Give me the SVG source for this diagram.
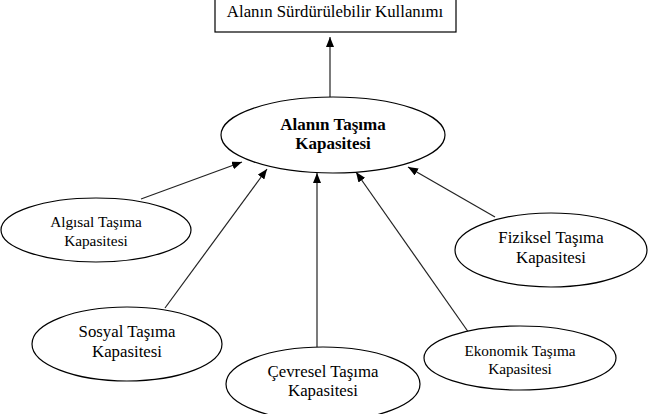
<svg xmlns="http://www.w3.org/2000/svg" width="650" height="414" viewBox="0 0 650 414" font-family="'Liberation Serif', 'Times New Roman', serif">
<style>
.n{fill:#fff;stroke:#000;stroke-width:1.2}
text{font-family:'Liberation Serif','Times New Roman',serif;fill:#000;text-anchor:middle;font-size:16.8px}
.s{font-size:15.3px}
.b{font-weight:bold;font-size:17px}
.c{stroke:#222;stroke-width:1.2;fill:none;marker-end:url(#ah)}
</style>
<defs>
<marker id="ah" markerWidth="10" markerHeight="8" refX="10" refY="4" orient="auto" markerUnits="userSpaceOnUse">
<path d="M0,0 L10,4 L0,8 Z" fill="#000"/>
</marker>
</defs>
<rect width="650" height="414" fill="#fff"/>
<g id="connectors">
<line class="c" x1="330" y1="97" x2="330" y2="37"/>
<line class="c" x1="141" y1="199" x2="242" y2="162"/>
<line class="c" x1="165" y1="308" x2="267" y2="169"/>
<line class="c" x1="317" y1="347" x2="317" y2="173"/>
<line class="c" x1="469" y1="333" x2="356" y2="172"/>
<line class="c" x1="495" y1="217" x2="408" y2="167"/>
</g>
<g id="top">
<rect class="n" x="215" y="-1" width="241" height="33"/>
<text x="335" y="17">Alanın Sürdürülebilir Kullanımı</text>
</g>
<g id="center">
<ellipse class="n" cx="333" cy="135" rx="112" ry="38"/>
<text class="b" x="333" y="130">Alanın Taşıma</text>
<text class="b" x="333" y="149">Kapasitesi</text>
</g>
<g id="algisal">
<ellipse class="n" cx="96" cy="230" rx="95" ry="32"/>
<text class="s" x="96" y="227">Algısal Taşıma</text>
<text class="s" x="96" y="246">Kapasitesi</text>
</g>
<g id="fiziksel">
<ellipse class="n" cx="551" cy="250" rx="96" ry="37"/>
<text x="551" y="243">Fiziksel Taşıma</text>
<text x="551" y="263">Kapasitesi</text>
</g>
<g id="sosyal">
<ellipse class="n" cx="127" cy="344" rx="95" ry="37"/>
<text x="127" y="337">Sosyal Taşıma</text>
<text x="127" y="357">Kapasitesi</text>
</g>
<g id="cevresel">
<ellipse class="n" cx="323" cy="384" rx="97" ry="37"/>
<text x="323" y="377">Çevresel Taşıma</text>
<text x="323" y="396">Kapasitesi</text>
</g>
<g id="ekonomik">
<ellipse class="n" cx="520" cy="358" rx="96" ry="32"/>
<text class="s" x="520" y="356">Ekonomik Taşıma</text>
<text class="s" x="520" y="374">Kapasitesi</text>
</g>
</svg>
